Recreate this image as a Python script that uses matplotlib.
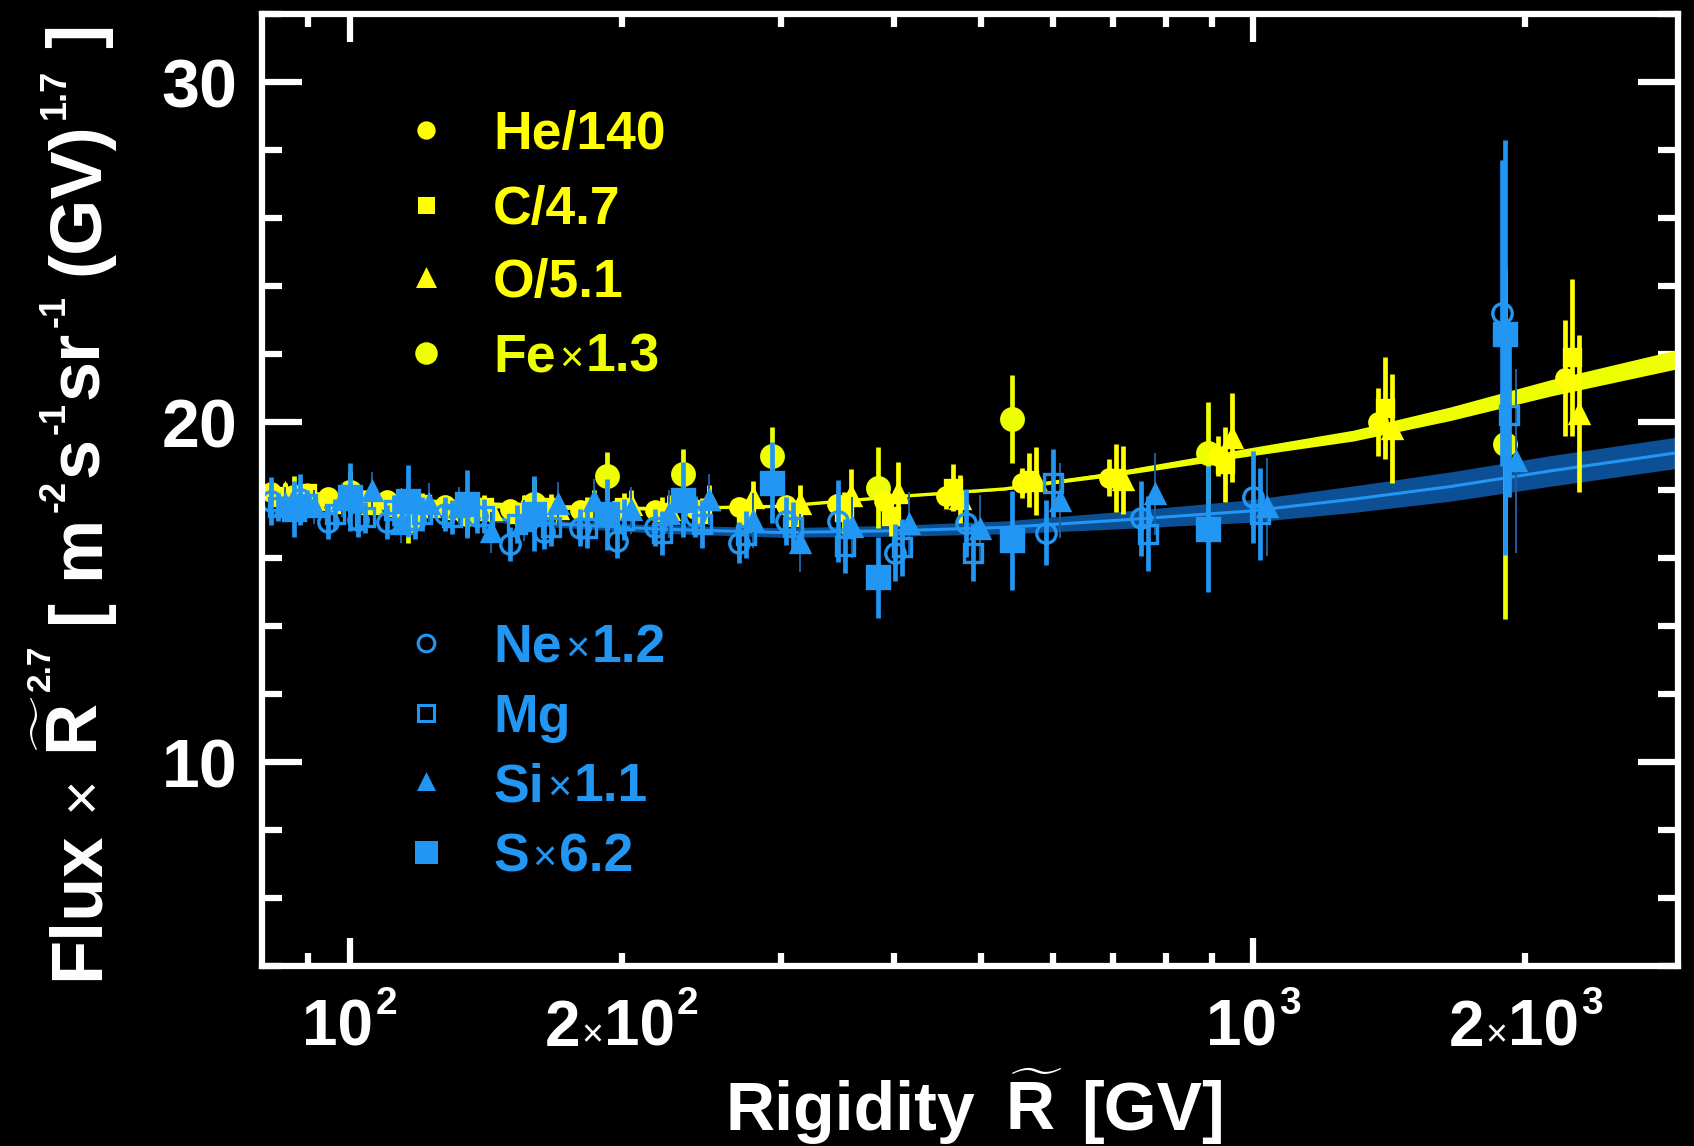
import matplotlib

matplotlib.use("Agg")
import matplotlib.pyplot as plt
import numpy as np
from matplotlib.ticker import FixedLocator, MultipleLocator, NullFormatter

plt.rcParams["font.family"] = ["Liberation Sans", "DejaVu Sans"]
plt.rcParams["font.weight"] = "bold"
plt.rcParams["mathtext.fontset"] = "custom"
plt.rcParams["mathtext.rm"] = "Liberation Sans:bold"
plt.rcParams["mathtext.it"] = "Liberation Sans:bold"
plt.rcParams["mathtext.bf"] = "Liberation Sans:bold"

# rigidity bins (GV)
R_hco = [83.3, 89.7, 96.4, 103.9, 112.0, 120.4, 129.9, 140.9, 153.3, 167.2, 183.2, 201.0,
         221.6, 245.5, 274.4, 309.8, 352, 397, 465, 565, 705, 930, 1400, 2250]
R_nms = [83.3, 89.7, 96.4, 103.9, 112.0, 120.4, 129.9, 140.9, 153.3, 167.2, 183.2, 201.0,
         221.6, 245.5, 274.4, 309.8, 353.6, 408.5, 490, 600, 765, 1018, 1920]
R_fes = [86.7, 100, 116, 135, 160, 192.6, 234, 293, 384, 541, 890, 1900]

# Flux x R^2.7, scaled
he = [17.95, 17.85, 17.8, 17.75, 17.7, 17.6, 17.55, 17.5, 17.45, 17.45, 17.4, 17.4,
      17.4, 17.45, 17.5, 17.55, 17.6, 17.68, 17.82, 18.21, 18.36, 19.0, 20.0, 21.3]
he_err = [0.12, 0.12, 0.12, 0.12, 0.13, 0.13, 0.14, 0.14, 0.15, 0.15, 0.16, 0.17,
          0.18, 0.2, 0.22, 0.25, 0.28, 0.32, 0.38, 0.45, 0.55, 0.6, 1.0, 1.7]
c = [17.8, 17.9, 17.6, 17.7, 17.5, 17.6, 17.4, 17.5, 17.3, 17.5, 17.4, 17.5,
     17.35, 17.3, 17.25, 17.2, 17.35, 17.24, 18.07, 18.3, 18.36, 18.76, 20.4, 21.9]
c_err = [0.3, 0.3, 0.3, 0.3, 0.32, 0.32, 0.34, 0.35, 0.36, 0.38, 0.4, 0.42,
         0.44, 0.46, 0.5, 0.52, 0.6, 0.6, 0.7, 0.8, 1.0, 1.1, 1.5, 2.3]
o = [17.9, 17.7, 17.8, 17.6, 17.7, 17.5, 17.6, 17.4, 17.5, 17.45, 17.6, 17.57,
     17.4, 17.7, 17.77, 17.6, 17.82, 17.92, 17.73, 18.26, 18.3, 19.54, 19.8, 20.25]
o_err = [0.3, 0.3, 0.3, 0.3, 0.32, 0.32, 0.34, 0.35, 0.36, 0.38, 0.4, 0.42,
         0.44, 0.46, 0.5, 0.55, 0.8, 0.9, 0.7, 1.0, 1.0, 1.3, 1.6, 2.3]
fe = [17.8, 17.95, 17.1, 17.3, 17.6, 18.41, 18.46, 19.0, 18.07, 20.08, 19.1, 19.35]
fe_err = [0.6, 0.6, 0.65, 0.65, 0.7, 0.7, 0.75, 0.85, 1.2, 1.3, 1.5, 5.15]

ne = [17.68, 17.73, 17.05, 17.11, 17.05, 17.11, 17.3, 17.25, 16.4, 16.76, 16.89, 16.5,
      16.9, 17.23, 16.45, 17.08, 17.09, 16.16, 17.04, 16.75, 17.17, 17.8, 23.2]
ne_err = [0.7, 0.75, 0.5, 0.5, 0.5, 0.55, 0.5, 0.5, 0.5, 0.5, 0.55, 0.5,
          0.55, 0.6, 0.6, 0.7, 1.2, 0.85, 1.0, 0.95, 1.1, 1.35, 4.5]
mg = [17.5, 17.6, 17.3, 17.2, 17.4, 17.3, 17.2, 17.25, 17.0, 16.9, 16.89, 17.13,
      16.74, 17.0, 16.69, 16.9, 16.36, 16.31, 16.16, 18.22, 16.72, 17.3, 20.2]
mg_err = [0.4, 0.4, 0.45, 0.45, 0.45, 0.5, 0.5, 0.5, 0.55, 0.55, 0.6, 0.6,
          0.65, 0.7, 0.7, 0.75, 0.8, 0.85, 0.85, 1.0, 1.1, 1.35, 2.4]
si = [17.6, 17.5, 17.7, 17.97, 17.0, 17.6, 17.5, 16.76, 17.1, 17.6, 17.67, 17.4,
      17.3, 17.72, 17.1, 16.45, 16.9, 17.0, 16.85, 17.68, 17.88, 17.5, 18.85]
si_err = [0.5, 0.5, 0.5, 0.55, 0.55, 0.6, 0.6, 0.6, 0.6, 0.65, 0.65, 0.7,
          0.7, 0.75, 0.8, 0.85, 0.9, 0.95, 1.0, 1.1, 1.2, 1.45, 2.7]
s = [17.44, 17.8, 17.68, 17.58, 17.3, 17.28, 17.72, 18.22, 15.43, 16.52, 16.85, 22.6]
s_err_lo = [0.83, 1.0, 1.05, 1.0, 1.1, 1.05, 1.1, 1.2, 1.2, 1.45, 1.85, 6.5]
s_err_hi = [0.83, 1.0, 1.05, 1.0, 1.1, 1.05, 1.1, 1.2, 1.2, 1.45, 1.85, 5.7]

# fits
fit_R = [80, 100, 130, 170, 220, 300, 400, 530, 700, 990, 1290, 1650, 2130, 2950]
fit_prim = [17.95, 17.75, 17.6, 17.5, 17.45, 17.52, 17.8, 18.03, 18.47, 19.12, 19.6, 20.24, 21.0, 21.85]
band_prim = [0.14, 0.12, 0.1, 0.07, 0.04, 0.02, 0.02, 0.03, 0.07, 0.12, 0.16, 0.2, 0.24, 0.28]
fit_sec = [17.85, 17.55, 17.25, 17.0, 16.85, 16.75, 16.8, 16.9, 17.1, 17.38, 17.73, 18.1, 18.56, 19.1]
band_sec = [0.08, 0.08, 0.09, 0.1, 0.12, 0.14, 0.16, 0.19, 0.25, 0.33, 0.39, 0.43, 0.45, 0.46]

YEL = "#ffff00"
YEL2 = "#eeff00"
BLUE = "#2196f3"
DBLUE = "#0c4f94"

W, H = 1694, 1146
fig = plt.figure(figsize=(W / 100, H / 100), dpi=100, facecolor="black")
ax = fig.add_axes([262 / W, 1 - 966 / H, 1416 / W, 952 / H], facecolor="black")
ax.set_xscale("log")
ax.set_xlim(80, 2950)
ax.set_ylim(4, 32)
rend = fig.canvas.get_renderer()

# fit bands
fR = np.array(fit_R)
fp, bp = np.array(fit_prim), np.array(band_prim)
fs, bs = np.array(fit_sec), np.array(band_sec)
ax.fill_between(fR, fs - bs, fs + bs, color=DBLUE, lw=0, zorder=1)
ax.plot(fR, fs, color=BLUE, lw=2.2, zorder=1.5)
ax.fill_between(fR, fp - bp, fp + bp, color=YEL2, lw=0, zorder=2)
ax.plot(fR, fp, color=YEL2, lw=2.4, zorder=2.5)


def pts(R, y, err, shift, marker, ms, color, filled=True, elw=3.4, ecolor=None, z=4):
    ax.errorbar(np.array(R) * shift, y, yerr=err, fmt=marker, ms=ms,
                color=color, mfc=color if filled else "none", mec=color,
                mew=2.4, ecolor=ecolor or color, elinewidth=elw,
                capsize=0, zorder=z)


sh = 1.018
pts(R_fes, fe, fe_err, 1.0, "o", 15.5, YEL2, z=3)
pts(R_hco, he, he_err, 1 / sh, "o", 12.5, YEL, z=3)
pts(R_hco, c, c_err, 1.0, "s", 11.5, YEL, z=3)
pts(R_hco, o, o_err, sh, "^", 12.5, YEL, z=3)

pts(R_nms, ne, ne_err, 1 / sh, "o", 14, BLUE, filled=False, z=4)
pts(R_nms, mg, mg_err, 1.0, "s", 13.5, BLUE, filled=False, z=4)
pts(R_nms, si, si_err, sh, "^", 12.5, BLUE, elw=1.4, ecolor="#1a5f9e", z=4)
pts(R_fes, s, [s_err_lo, s_err_hi], 1.0, "s", 15.5, BLUE, z=4.5)

# axes styling
for sp in ax.spines.values():
    sp.set_color("white")
    sp.set_linewidth(4.5)
    sp.set_zorder(10)

ax.xaxis.set_major_locator(FixedLocator([100, 1000]))
ax.xaxis.set_minor_locator(FixedLocator([90, 200, 300, 400, 500, 600, 700, 800, 900, 2000]))
ax.xaxis.set_major_formatter(NullFormatter())
ax.xaxis.set_minor_formatter(NullFormatter())
ax.yaxis.set_major_locator(FixedLocator([10, 20, 30]))
ax.yaxis.set_minor_locator(MultipleLocator(2))
ax.yaxis.set_minor_formatter(NullFormatter())

ax.tick_params(which="both", direction="in", top=True, right=True,
               colors="white", width=4.5, labelsize=49)
ax.tick_params(axis="x", which="major", length=20)
ax.tick_params(axis="x", which="minor", length=9.5)
ax.tick_params(axis="y", which="major", length=29, pad=18)
ax.tick_params(axis="y", which="minor", length=14.5)


def rich(pieces, x, y, align="center", rotation=0, color="white"):
    """pieces: (text, size, bold, rise_px, gap_px); x, y in image pixels at the baseline."""
    items, total = [], 0
    for txt, size, bold, rise, gap in pieces:
        t = fig.text(0, 0, txt, fontsize=size, color=color,
                     fontweight="bold" if bold else "normal",
                     rotation=rotation, rotation_mode="anchor",
                     ha="left", va="baseline")
        bb = t.get_window_extent(rend)
        adv = bb.width if rotation == 0 else bb.height
        total += gap
        items.append((t, total, rise))
        total += adv
    start = -total / 2 if align == "center" else 0
    for t, off, rise in items:
        if rotation == 0:
            px, py = x + start + off, H - y + rise
        else:
            px, py = x - rise, H - y + start + off
        t.set_position((px / W, py / H))


# x tick labels
xlab = [(100, "10", "2"), (200, "2", "2"), (1000, "10", "3"), (2000, "2", "3")]
for val, mant, ex in xlab:
    xp = ax.transData.transform((val, 10))[0]
    pcs = [(mant, 46, True, 0, 0)]
    if mant == "2":
        pcs += [("\u00d7", 27, False, 0, 1), ("10", 46, True, 0, 1)]
    pcs += [(ex, 28, True, 32, 2)]
    rich(pcs, xp, 1046, align="center")

# legend
leg_prim = [("He/140", "", "o", 11, YEL, True, 130), ("C/4.7", "", "s", 10, YEL, True, 205),
            ("O/5.1", "", "^", 11, YEL, True, 278), ("Fe", "1.3", "o", 14, YEL2, True, 353)]
leg_sec = [("Ne", "1.2", "o", 12, BLUE, False, 643),
           ("Mg", "", "s", 11, BLUE, False, 713),
           ("Si", "1.1", "^", 10, BLUE, True, 782),
           ("S", "6.2", "s", 14, BLUE, True, 852)]
for name, fac, mk, ms, col, filled, ypx in leg_prim + leg_sec:
    fy = (966 - ypx) / 952
    ax.plot([(426 - 262) / 1416], [fy], mk, ms=ms, color=col,
            mfc=col if filled else "none", mec=col, mew=2.2,
            transform=ax.transAxes, zorder=6)
    pcs = [(name, 38.5, True, 0, 0)]
    if fac:
        pcs += [("\u00d7", 30, False, 0, 3), (fac, 38.5, True, 0, 3)]
    rich(pcs, 493, ypx + 19, align="left", color=col)

# axis titles
rich([("Rigidity", 49, True, 0, 0), (r"$\widetilde{R}$", 49, True, 0, 30),
      ("[GV]", 49, True, 0, 18)], 975, 1130, align="center")

ylab = [("Flux", 52, True, 0, 0), ("\u00d7", 44, False, 0, 20),
        (r"$\widetilde{R}$", 52, True, 0, 20), ("2.7", 24, True, 48, 4),
        ("[", 52, True, 0, 22), ("m", 52, True, 0, 20), ("-2", 26, True, 33, 3),
        ("s", 52, True, 0, 3), ("-1", 26, True, 33, 3), ("sr", 52, True, 0, 3),
        ("-1", 26, True, 33, 3), ("(GV)", 52, True, 0, 20), ("1.7", 26, True, 33, 4),
        ("]", 52, True, 0, 20)]
rich(ylab, 98, 502, align="center", rotation=90)

fig.savefig("out.png", dpi=100, facecolor="black")
